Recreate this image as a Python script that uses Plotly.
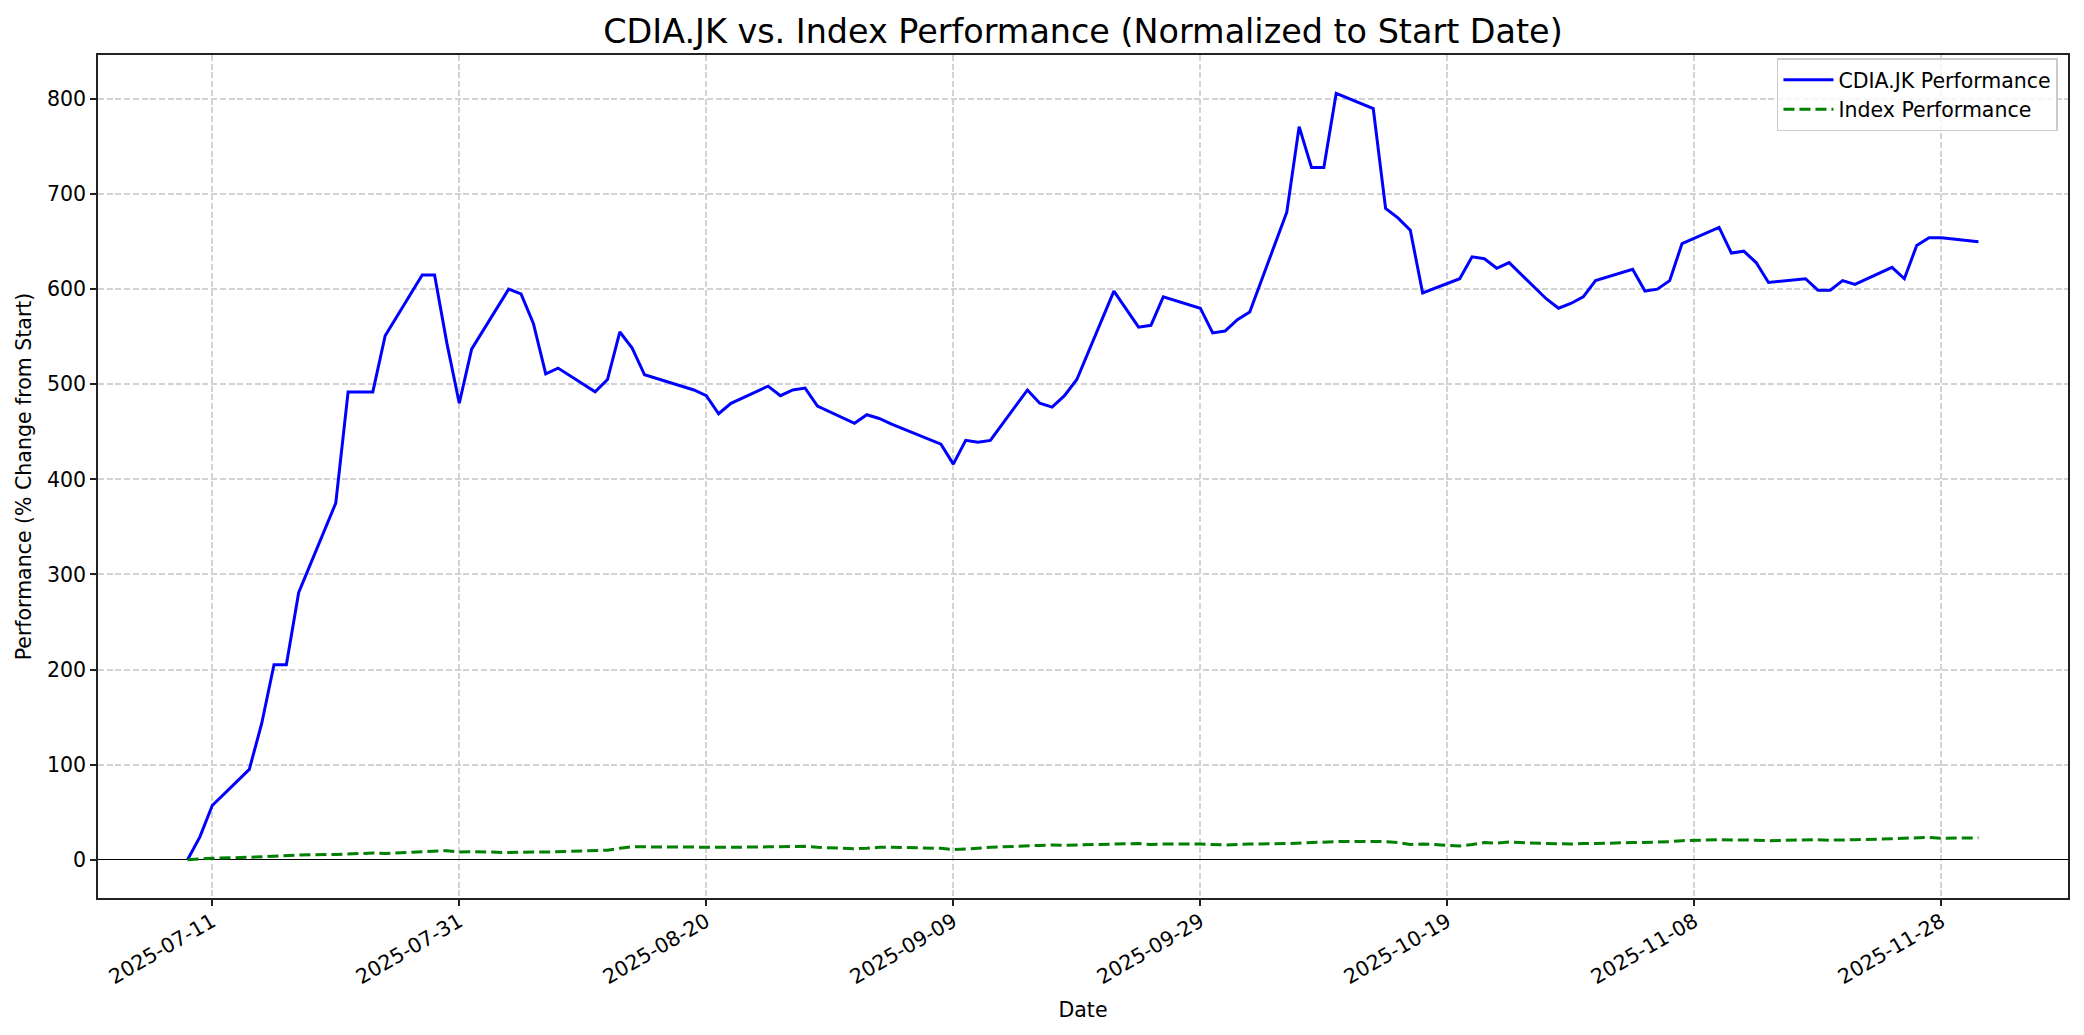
import plotly.graph_objects as go

dates = [
    "2025-07-09", "2025-07-10", "2025-07-11", "2025-07-14", "2025-07-15", "2025-07-16", "2025-07-17", "2025-07-18",
    "2025-07-21", "2025-07-22", "2025-07-23", "2025-07-24", "2025-07-25", "2025-07-28", "2025-07-29", "2025-07-30",
    "2025-07-31", "2025-08-01", "2025-08-04", "2025-08-05", "2025-08-06", "2025-08-07", "2025-08-08", "2025-08-11",
    "2025-08-12", "2025-08-13", "2025-08-14", "2025-08-15", "2025-08-19", "2025-08-20", "2025-08-21", "2025-08-22",
    "2025-08-25", "2025-08-26", "2025-08-27", "2025-08-28", "2025-08-29", "2025-09-01", "2025-09-02", "2025-09-03",
    "2025-09-04", "2025-09-08", "2025-09-09", "2025-09-10", "2025-09-11", "2025-09-12", "2025-09-15", "2025-09-16",
    "2025-09-17", "2025-09-18", "2025-09-19", "2025-09-22", "2025-09-23", "2025-09-24", "2025-09-25", "2025-09-26",
    "2025-09-29", "2025-09-30", "2025-10-01", "2025-10-02", "2025-10-03", "2025-10-06", "2025-10-07", "2025-10-08",
    "2025-10-09", "2025-10-10", "2025-10-13", "2025-10-14", "2025-10-15", "2025-10-16", "2025-10-17", "2025-10-20",
    "2025-10-21", "2025-10-22", "2025-10-23", "2025-10-24", "2025-10-27", "2025-10-28", "2025-10-29", "2025-10-30",
    "2025-10-31", "2025-11-03", "2025-11-04", "2025-11-05", "2025-11-06", "2025-11-07", "2025-11-10", "2025-11-11",
    "2025-11-12", "2025-11-13", "2025-11-14", "2025-11-17", "2025-11-18", "2025-11-19", "2025-11-20", "2025-11-21",
    "2025-11-24", "2025-11-25", "2025-11-26", "2025-11-27", "2025-11-28", "2025-12-01",
]

cdia_perf = [
    0, 24, 57, 95, 143, 205, 205, 281,
    375, 492, 492, 492, 551, 615, 615, 543,
    480, 537, 600, 595, 564, 511, 517, 492,
    505, 555, 538, 510, 494, 488, 469, 480,
    498, 488, 494, 496, 477, 459, 468, 464,
    458, 437, 416, 441, 439, 441, 494, 480,
    476, 488, 505, 598, 579, 560, 562, 592,
    580, 554, 556, 568, 576, 681, 771, 728,
    728, 806, 790, 685, 675, 662, 596, 611,
    634, 632, 622, 628, 590, 580, 585, 592,
    609, 621, 598, 600, 609, 648, 665, 638,
    640, 628, 607, 611, 599, 599, 609, 605,
    623, 611, 646, 654, 654, 650,
]

index_perf = [
    0, 1, 1.5, 2.5, 3, 3.5, 4.5, 5,
    5.5, 6, 6.5, 7, 6.5, 8.5, 9, 9.5,
    8, 8.5, 7.5, 8, 8, 8, 8.5, 9.5,
    10, 12, 13.5, 13.5, 13, 13.5, 13, 13,
    13.5, 13.5, 14, 14, 13, 11.5, 12, 13,
    13, 12, 10.5, 11, 12, 13, 14, 15,
    15.5, 15, 15.5, 16, 16.5, 17, 16, 16.5,
    16.5, 16, 15.5, 16, 16.5, 17, 17.5, 17.5,
    18, 19, 19, 19, 18, 16, 16.5, 14.5,
    16, 18, 17.5, 18.5, 17, 16.5, 16.5, 17,
    17, 18, 18, 18.5, 19, 20, 21, 21,
    20.5, 20.5, 20, 21, 21, 20.5, 21, 21,
    22, 22.5, 23, 23.5, 22.5, 23,
]

y_ticks = [0, 100, 200, 300, 400, 500, 600, 700, 800]

FONT = "DejaVu Sans"
fs = 20.5

fig = go.Figure()
fig.add_trace(go.Scatter(
    x=dates, y=cdia_perf, mode="lines", name="CDIA.JK Performance",
    line=dict(color="#0000ff", width=3),
))
fig.add_trace(go.Scatter(
    x=dates, y=index_perf, mode="lines", name="Index Performance",
    line=dict(color="#008000", width=3, dash="11px,5px"),
))

axis_common = dict(
    showline=True, linecolor="#222222", linewidth=1.7, mirror=True,
    ticks="outside", ticklen=6, tickwidth=1.6, tickcolor="#222222",
    showgrid=True, gridcolor="#d3d3d3", gridwidth=1.6, griddash="6px,2.7px",
    tickfont=dict(family=FONT, size=fs, color="black"),
    automargin=False,
)

# page body has an 8px default margin; compensate so the axes land where the reference has them
W, H = 2076, 1027

fig.update_layout(
    width=W, height=H,
    margin=dict(l=90, r=16, t=47, b=137),
    paper_bgcolor="white", plot_bgcolor="white",
    font=dict(family=FONT, size=fs, color="black"),
    title=dict(
        text="CDIA.JK vs. Index Performance (Normalized to Start Date)",
        font=dict(family=FONT, size=33.4, color="black"),
        x=0.5, xref="paper", xanchor="center",
        y=1 - 23 / H, yref="container", yanchor="middle",
    ),
    xaxis=dict(
        **axis_common,
        zeroline=False,
        type="date",
        range=["2025-07-01 18:00", "2025-12-08 06:00"],
        tick0="2025-07-11", dtick=20 * 86400000,
        tickformat="%Y-%m-%d", tickangle=-30,
        ticklabelstandoff=-4,
        title=dict(text="Date", font=dict(family=FONT, size=fs, color="black"), standoff=15),
    ),
    yaxis=dict(
        **axis_common,
        zeroline=True, zerolinecolor="black", zerolinewidth=1.4,
        range=[-40.3, 846.3],
        tickvals=y_ticks,
        ticktext=[str(v) for v in y_ticks],
        title=dict(text="Performance (% Change from Start)",
                   font=dict(family=FONT, size=fs, color="black"), standoff=10),
    ),
    legend=dict(
        x=0.9949, xanchor="right", y=0.996, yanchor="top",
        bgcolor="rgba(255,255,255,0.8)", bordercolor="#cccccc", borderwidth=1.5,
        font=dict(family=FONT, size=fs, color="black"),
        itemwidth=50,
    ),
    showlegend=True,
)

fig.write_html("out.html")
